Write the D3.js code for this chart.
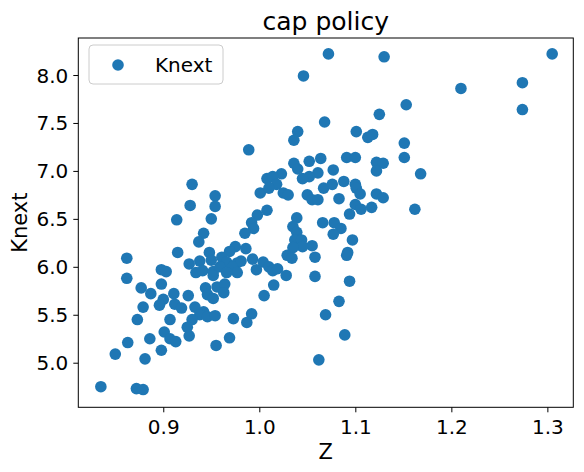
<!DOCTYPE html>
<html><head><meta charset="utf-8">
<script src="https://cdn.jsdelivr.net/npm/d3@7"></script>
<style>body{margin:0;background:#fff}text{font-family:"DejaVu Sans",sans-serif}</style>
</head><body><svg id="c" width="584" height="472"></svg>
<script>
const zValues=[0.930,0.954,0.954,0.928,1.001,0.914,0.950,0.998,0.992,0.994,0.985,0.942,0.937,0.862,0.915,0.948,0.975,0.969,0.986,0.961,0.993,0.927,0.938,0.950,0.966,0.977,0.981,0.898,0.903,0.934,0.941,0.952,0.959,0.972,0.977,0.997,0.952,0.966,0.862,0.898,0.877,0.887,0.911,0.926,0.944,0.956,0.964,0.963,0.946,0.952,0.900,0.896,0.879,0.912,0.919,0.933,0.942,0.938,0.946,0.954,0.873,0.907,0.930,0.973,0.992,0.987,0.925,0.901,0.886,0.907,0.913,0.927,0.863,0.969,0.955,0.898,0.850,0.881,0.835,0.872,0.879,
1.046,1.153,1.125,1.068,1.040,1.036,1.101,1.113,1.118,1.151,1.151,0.989,1.036,1.040,1.052,1.064,1.091,1.100,1.122,1.129,1.122,1.168,1.077,1.061,1.052,1.045,1.023,1.008,1.014,1.018,1.010,1.025,1.030,1.050,1.055,1.061,1.067,1.076,1.088,1.100,1.101,1.105,1.083,1.122,1.129,1.100,1.106,1.117,1.162,1.094,1.008,1.039,1.035,1.039,1.037,1.044,1.066,1.078,1.085,1.077,1.097,1.055,1.045,1.035,1.029,1.034,1.058,1.092,1.091,1.004,1.010,1.014,1.019,1.028,1.058,1.015,1.005,1.094,1.083,1.069,1.089,1.062,
1.130,1.305,1.210,1.274,1.274,1.072];
const knextValues=[6.86,6.74,6.63,6.64,6.77,6.49,6.50,6.54,6.46,6.40,6.35,6.35,6.26,6.09,6.15,6.15,6.21,6.16,6.19,6.10,6.08,6.03,6.06,6.07,6.05,6.04,6.06,5.97,5.95,5.94,5.96,5.95,6.00,6.00,5.94,5.97,5.91,5.94,5.88,5.82,5.78,5.72,5.72,5.70,5.78,5.79,5.82,5.73,5.71,5.67,5.66,5.60,5.58,5.61,5.57,5.58,5.53,5.50,5.48,5.49,5.45,5.45,5.45,5.46,5.51,5.42,5.37,5.32,5.25,5.25,5.22,5.28,5.21,5.26,5.18,5.13,5.09,5.04,4.75,4.73,4.72,
7.99,7.69,7.59,7.51,7.41,7.32,7.41,7.35,7.38,7.29,7.14,7.22,7.08,7.02,7.10,7.13,7.14,7.14,7.09,7.08,7.00,6.97,7.01,6.98,6.94,6.92,6.97,6.92,6.94,6.86,6.82,6.77,6.75,6.75,6.70,6.70,6.82,6.86,6.89,6.86,6.82,6.76,6.71,6.76,6.72,6.65,6.60,6.62,6.60,6.55,6.59,6.51,6.42,6.36,6.28,6.28,6.46,6.46,6.40,6.34,6.28,6.22,6.21,6.20,6.12,6.09,6.10,6.15,6.12,6.05,6.00,5.96,5.98,5.91,5.90,5.81,5.70,5.85,5.64,5.50,5.29,5.03,
8.19,8.22,7.86,7.92,7.64,8.22];
const xTicks=[0.9,1.0,1.1,1.2,1.3];
const yTicks=[5.0,5.5,6.0,6.5,7.0,7.5,8.0];
const svg=d3.select("#c");
const L=78.3,R=573.3,T=38,B=407.3;
const x=d3.scaleLinear().domain([0.8115,1.327]).range([L,R]);
const y=d3.scaleLinear().domain([4.535,8.386]).range([B,T]);
svg.append("g").selectAll("circle").data(zValues).join("circle")
 .attr("cx",d=>x(d)).attr("cy",(d,i)=>y(knextValues[i])).attr("r",5.8).attr("fill","#1f77b4");
const xa=svg.append("g").attr("transform",`translate(0,${B})`).call(d3.axisBottom(x).tickValues(xTicks).tickFormat(d3.format(".1f")).tickSize(5).tickSizeOuter(0));
const ya=svg.append("g").attr("transform",`translate(${L},0)`).call(d3.axisLeft(y).tickValues(yTicks).tickFormat(d3.format(".1f")).tickSize(5).tickSizeOuter(0));
[xa,ya].forEach(a=>{a.select(".domain").remove();a.selectAll("text").attr("font-size",20).attr("fill","#000").attr("font-family","DejaVu Sans");a.selectAll("line").attr("stroke","#000");});
xa.selectAll("text").attr("dy","0.95em");
ya.selectAll("text").attr("dx","-0.1em").attr("dy","0.35em");
svg.append("rect").attr("x",L).attr("y",T).attr("width",R-L).attr("height",B-T).attr("fill","none").attr("stroke","#000").attr("stroke-width",1);
svg.append("text").attr("x",(L+R)/2).attr("y",30).attr("text-anchor","middle").attr("font-size",25).text("cap policy");
svg.append("text").attr("x",(L+R)/2).attr("y",459).attr("text-anchor","middle").attr("font-size",21).text("Z");
svg.append("text").attr("transform",`translate(27,${(T+B)/2}) rotate(-90)`).attr("text-anchor","middle").attr("font-size",21).text("Knext");
const lg=svg.append("g");
lg.append("rect").attr("x",89).attr("y",45).attr("width",134).attr("height",39).attr("rx",4).attr("fill","#fff").attr("fill-opacity",0.8).attr("stroke","#ccc");
lg.append("circle").attr("cx",118).attr("cy",65).attr("r",5.8).attr("fill","#1f77b4");
lg.append("text").attr("x",155).attr("y",72).attr("font-size",20).text("Knext");
</script></body></html>
